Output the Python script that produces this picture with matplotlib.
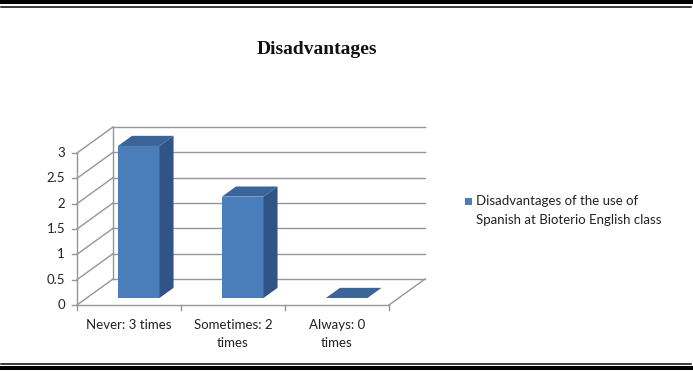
import matplotlib
matplotlib.use("Agg")
import matplotlib.pyplot as plt
from matplotlib.patches import Polygon
import numpy as np

# ---- data ----
categories = ["Never: 3 times", "Sometimes: 2\ntimes", "Always: 0\ntimes"]
values = [3, 2, 0]
yticks = [0, 0.5, 1, 1.5, 2, 2.5, 3]
ytick_labels = ["0", "0.5", "1", "1.5", "2", "2.5", "3"]
series_lines = ["Disadvantages of the use of", "Spanish at Bioterio English class"]
title = "Disadvantages"

# ---- style ----
W, H = 693, 371
DPI = 100
front_col = "#4a7ebb"
side_col = "#2f5485"
top_col = "#3b6598"
grid_col = "#969696"
text_col = "#222222"
font = ["Lato", "DejaVu Sans"]

# projection parameters (data units)
DX = 0.346   # depth shift in category units
DY = 0.513   # depth shift in value units
d0, d1 = 0.27, 0.66  # bar depth range
bw = 0.40            # bar width

fig = plt.figure(figsize=(W / DPI, H / DPI), dpi=DPI)
ax = fig.add_axes([0, 0, 1, 1])
px_x = 104.0
px_y = 50.67
x0_px, y0_px = 77, 305
ax.set_xlim(-0.5 - x0_px / px_x, -0.5 + (W - x0_px) / px_x)
ax.set_ylim(-(H - y0_px) / px_y, y0_px / px_y)
ax.axis("off")

n = len(categories)
xl, xr = -0.5, n - 0.5
ymax = yticks[-1]

for v, lab in zip(yticks, ytick_labels):
    # back wall gridlines
    ax.plot([xl + DX, xr + DX], [v + DY, v + DY], color=grid_col, lw=1, zorder=1)
    # left wall diagonals
    ax.plot([xl, xl + DX], [v, v + DY], color=grid_col, lw=1, zorder=1)
    # tick marks
    ax.plot([xl - 5 / px_x, xl], [v, v], color=grid_col, lw=1, zorder=1)
    ax.text(xl - 12 / px_x, v, lab, ha="right", va="center",
            fontsize=9.5, color=text_col, family=font)
# left wall verticals
ax.plot([xl, xl], [0, ymax], color=grid_col, lw=1, zorder=1)
ax.plot([xl + DX, xl + DX], [DY, ymax + DY], color=grid_col, lw=1, zorder=1)
# floor
ax.plot([xl, xr], [0, 0], color=grid_col, lw=1, zorder=1)
ax.plot([xr, xr + DX], [0, DY], color=grid_col, lw=1, zorder=1)
# category ticks
for i in range(n + 1):
    ax.plot([xl + i, xl + i], [0, -5 / px_y], color=grid_col, lw=1, zorder=1)

# bars
for i, v in enumerate(values):
    fx0 = i - bw / 2 + d0 * DX
    fx1 = i + bw / 2 + d0 * DX
    fy0 = d0 * DY
    bx0 = i - bw / 2 + d1 * DX
    bx1 = i + bw / 2 + d1 * DX
    by0 = d1 * DY
    top_front = fy0 + v
    top_back = by0 + v
    if v > 0:
        ax.add_patch(Polygon([(fx0, fy0), (fx1, fy0), (fx1, top_front), (fx0, top_front)],
                             closed=True, facecolor=front_col, edgecolor="none", zorder=3))
        ax.add_patch(Polygon([(fx1, fy0), (bx1, by0), (bx1, top_back), (fx1, top_front)],
                             closed=True, facecolor=side_col, edgecolor="none", zorder=3))
    ax.add_patch(Polygon([(fx0, top_front), (fx1, top_front), (bx1, top_back), (bx0, top_back)],
                         closed=True, facecolor=top_col, edgecolor="none", zorder=3))

# category labels (one text per line)
for i, c in enumerate(categories):
    for k, line in enumerate(c.split("\n")):
        ax.text(i, -(20 + 18 * k) / px_y, line, ha="center", va="center", fontsize=9.5,
                color=text_col, family=font)

# title
fig.text(317 / W, 1 - 49 / H, title, ha="center", va="center", fontsize=14,
         fontweight="bold", family=["Liberation Serif", "DejaVu Serif"], color="#111111")

# legend
fig.patches.append(plt.Rectangle((465 / W, 1 - 205 / H), 7 / W, 7 / H, transform=fig.transFigure,
                                 facecolor=front_col, edgecolor="none"))
for k, line in enumerate(series_lines):
    fig.text(476 / W, 1 - (201 + 19 * k) / H, line, ha="left", va="center", fontsize=9.5,
             color=text_col, family=font, transform=fig.transFigure)

# borders
for y, lw in [(2, 4), (6.5, 1.5), (364, 1.5), (368, 4)]:
    fig.add_artist(plt.Line2D([1 / W, 691 / W], [1 - y / H, 1 - y / H], color="black",
                              lw=lw * 0.72, transform=fig.transFigure))

fig.savefig("out.png", dpi=DPI)
